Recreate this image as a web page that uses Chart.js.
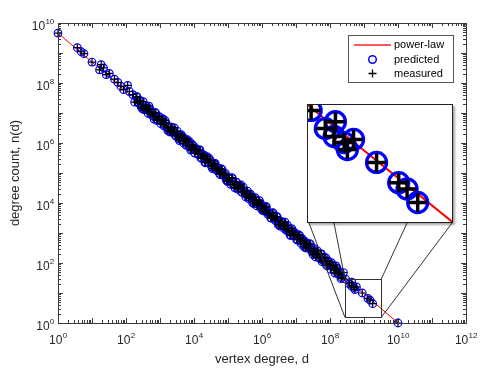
<!DOCTYPE html>
<html>
<head>
<meta charset="utf-8">
<script src="https://cdn.jsdelivr.net/npm/chart.js@4.4.1/dist/chart.umd.min.js"></script>
<style>
body { margin: 0; background: #fff; overflow: hidden; }
canvas { display: block; }
#wrap { position: relative; width: 485px; height: 374px; }
#inset { position: absolute; left: 307px; top: 104px; width: 144px; height: 117px;
         border: 1px solid #222; background: #fff; box-shadow: 2px 2px 2px rgba(0,0,0,0.35); }
</style>
</head>
<body>
<div id="wrap">
  <canvas id="myChart" width="485" height="374"></canvas>
  <div id="inset"><canvas id="zoomChart" width="144" height="117"></canvas></div>
</div>
<script>
// DATA ----------------------------------------
// vertex degree d (x)
const degree = [1, 3.7, 4.8, 5.8, 10, 16.6, 18.6, 21.9, 26.3, 32.4, 45.7, 57.5, 70.8, 85, 112, 126, 158,
  180, 200, 220, 250, 280, 320, 350, 400, 450, 500, 560, 630, 710, 800, 890,
  1000, 1100, 1300, 1400, 1600, 1800, 2000, 2200, 2500, 2800, 3200, 3500, 4000, 4500, 5000, 5600, 6300, 7100, 8000, 8900,
  1e4, 1.1e4, 1.3e4, 1.4e4, 1.6e4, 1.8e4, 2e4, 2.2e4, 2.5e4, 2.8e4, 3.2e4, 3.5e4, 4e4, 4.5e4, 5e4, 5.6e4, 6.3e4, 7.1e4, 8e4, 8.9e4,
  1e5, 1.1e5, 1.3e5, 1.4e5, 1.6e5, 1.8e5, 2e5, 2.2e5, 2.5e5, 2.8e5, 3.2e5, 3.5e5, 4e5, 4.5e5, 5e5, 5.6e5, 6.3e5, 7.1e5, 8e5, 8.9e5,
  1e6, 1.1e6, 1.3e6, 1.4e6, 1.6e6, 1.8e6, 2e6, 2.2e6, 2.5e6, 2.8e6, 3.2e6, 3.5e6, 4e6, 4.5e6, 5e6, 5.6e6, 6.3e6, 7.1e6, 8e6, 8.9e6,
  1e7, 1.1e7, 1.3e7, 1.4e7, 1.6e7, 1.8e7, 2e7, 2.2e7, 2.5e7, 2.8e7, 3.2e7, 3.5e7, 4e7, 4.5e7, 5e7, 5.6e7, 6.3e7, 7.1e7, 8e7, 8.9e7,
  1e8, 1.1e8, 1.3e8, 1.4e8, 1.6e8, 1.8e8, 2e8, 2.2e8, 2.5e8,
  2.9e8, 3.7e8, 4.4e8, 4.3e8, 5.1e8, 5.4e8, 6.0e8, 8.9e8, 1.3e9, 1.5e9, 1.8e9, 1e10,
  // in-between bins
  210, 240, 265, 300, 335, 375, 420, 475, 530, 590, 670, 750, 840, 950,
  1050, 1200, 1350, 1500, 1700, 1900, 2100, 2400, 2650, 3000, 3350, 3750, 4200, 4750, 5300, 5900, 6700, 7500, 8400, 9500,
  1.05e4, 1.2e4, 1.35e4, 1.5e4, 1.7e4, 1.9e4, 2.1e4, 2.4e4, 2.65e4, 3e4, 3.35e4, 3.75e4, 4.2e4, 4.75e4, 5.3e4, 5.9e4, 6.7e4, 7.5e4, 8.4e4, 9.5e4,
  1.05e5, 1.2e5, 1.35e5, 1.5e5, 1.7e5, 1.9e5, 2.1e5, 2.4e5, 2.65e5, 3e5, 3.35e5, 3.75e5, 4.2e5, 4.75e5, 5.3e5, 5.9e5, 6.7e5, 7.5e5, 8.4e5, 9.5e5,
  1.05e6, 1.2e6, 1.35e6, 1.5e6, 1.7e6, 1.9e6, 2.1e6, 2.4e6, 2.65e6, 3e6, 3.35e6, 3.75e6, 4.2e6, 4.75e6, 5.3e6, 5.9e6, 6.7e6, 7.5e6, 8.4e6, 9.5e6,
  1.05e7, 1.2e7, 1.35e7, 1.5e7, 1.7e7, 1.9e7, 2.1e7, 2.4e7, 2.65e7, 3e7, 3.35e7, 3.75e7, 4.2e7, 4.75e7, 5.3e7, 5.9e7, 6.7e7, 7.5e7, 8.4e7, 9.5e7,
  1.05e8, 1.2e8, 1.35e8, 1.5e8, 1.7e8, 1.9e8, 2.1e8];

// degree count n(d), measured
const measured = [4.6e9, 1.5e9, 1.1e9, 9.5e8, 5.0e8, 2.75e8, 4.1e8, 3.2e8, 1.9e8, 2.1e8, 1.35e8, 1.05e8, 7.8e7, 6.0e7, 8.3e7, 5.2e7, 4.1e7,
  2.3e7, 3.5e7, 2.4e7, 2.6e7, 1.6e7, 2.4e7, 1.5e7, 1.5e7, 9.7e6, 1.4e7, 1.1e7, 7.8e6, 1.05e7, 5.7e6, 7.4e6,
  5.6e6, 6.2e6, 3.7e6, 5.7e6, 3.4e6, 3.4e6, 2.3e6, 3.4e6, 2.7e6, 1.8e6, 2.5e6, 1.4e6, 1.7e6, 1.7e6, 9.8e5, 1.2e6, 1.3e6, 7.7e5, 5.8e5, 8.9e5,
  7.8e5, 6.3e5, 4.2e5, 5.9e5, 3.1e5, 4.0e5, 3.9e5, 2.3e5, 2.8e5, 3.1e5, 1.8e5, 1.4e5, 2.1e5, 1.4e5, 1.5e5, 9.7e4, 1.4e5, 8.7e4, 8.7e4, 5.8e4,
  5.4e4, 6.7e4, 7.0e4, 4.3e4, 3.2e4, 4.9e4, 3.3e4, 3.7e4, 2.3e4, 3.4e4, 2.0e4, 2.1e4, 1.4e4, 2.0e4, 1.6e4, 1.1e4, 1.5e4, 8.0e3, 1.0e4, 9.9e3,
  8.5e3, 5.5e3, 7.7e3, 4.9e3, 4.8e3, 3.2e3, 4.6e3, 3.8e3, 2.6e3, 3.5e3, 1.9e3, 2.5e3, 2.3e3, 1.4e3, 1.7e3, 1.8e3, 1.1e3, 820, 1.2e3, 850,
  870, 620, 800, 450, 570, 540, 320, 400, 430, 260, 190, 300, 200, 210, 140, 200, 120, 120, 81, 118,
  92, 103, 58, 46, 69, 46, 50, 33, 48,
  29, 20, 23, 17, 15, 13, 16, 10, 6.6, 5.8, 4.4, 1,
  // in-between bins
  3.5e7, 2.1e7, 2.6e7, 1.4e7, 1.3e7, 1.8e7, 1.3e7, 1.7e7, 9.0e6, 1.0e7, 6.3e6, 1.0e7, 6.2e6, 7.6e6,
  4.4e6, 6.5e6, 4.0e6, 4.8e6, 2.6e6, 2.4e6, 3.4e6, 2.4e6, 3.2e6, 1.7e6, 1.9e6, 1.2e6, 1.9e6, 1.2e6, 1.4e6, 8.4e5, 1.1e6, 1.1e6, 6.4e5, 6.7e5,
  4.6e5, 6.3e5, 4.4e5, 5.9e5, 3.2e5, 3.6e5, 2.2e5, 3.5e5, 2.2e5, 2.7e5, 1.6e5, 2.0e5, 2.1e5, 1.2e5, 1.3e5, 8.8e4, 1.3e5, 8.2e4, 9.7e4, 5.3e4,
  6.8e4, 4.2e4, 6.6e4, 4.1e4, 5.0e4, 2.9e4, 3.8e4, 4.0e4, 2.3e4, 2.4e4, 1.6e4, 2.5e4, 1.6e4, 1.8e4, 1.0e4, 9.3e3, 1.3e4, 9.1e3, 1.2e4, 6.4e3,
  5.6e3, 7.1e3, 7.4e3, 4.2e3, 4.4e3, 3.1e3, 4.8e3, 2.9e3, 3.5e3, 1.9e3, 1.7e3, 2.4e3, 1.7e3, 2.3e3, 1.2e3, 1.4e3, 850, 1.4e3, 840, 1.0e3,
  590, 880, 540, 650, 350, 320, 460, 320, 430, 230, 260, 160, 260, 160, 200, 110, 150, 150, 86, 90,
  62, 85, 60, 80, 43, 48, 30];

// predicted counts sit on the measured ones in the picture
const predicted = measured.slice();

// power-law fit line
const fitDegree = [1, 1e10];
const fitCount = [4.6e9, 1];

// tick label exponents (10^n)
const xTickExp = [0, 2, 4, 6, 8, 10, 12];
const yTickExp = [0, 2, 4, 6, 8, 10];

// zoom window drawn on main axes, and the inset's own limits
const zoomX = [2.75e8, 3.24e9];
const zoomY = [1.55, 29.5];
const insetX = [2.75e8, 3.24e9];
const insetY = [2.95, 32.4];

const legendLabels = ['power-law', 'predicted', 'measured'];

// LAYOUT ----------------------------------------
const FONT = '"Liberation Sans", Arial, Helvetica, sans-serif';
const insetBottom = 223;
const insetAnchors = [309, 334, 407, 452];

const pts = (xs, ys) => xs.map((x, i) => ({x: x, y: ys[i]}));

function drawPow(c, exp, x, y, align) {
  c.font = '12px ' + FONT;
  const wb = c.measureText('10').width;
  c.font = '8px ' + FONT;
  const we = c.measureText(String(exp)).width;
  const x0 = align === 'right' ? x - wb - we : x - (wb + we) / 2;
  c.textAlign = 'left';
  c.textBaseline = 'alphabetic';
  c.font = '12px ' + FONT;
  c.fillText('10', x0, y);
  c.font = '8px ' + FONT;
  c.fillText(String(exp), x0 + wb + 0.3, y - 6.5);
}

const frame = {
  id: 'frame',
  afterDatasetsDraw(chart) {
    const c = chart.ctx, a = chart.chartArea;
    const xs = chart.scales.x, ys = chart.scales.y;
    c.save();
    c.lineWidth = 1;

    // zoom rectangle + connectors
    const rx0 = xs.getPixelForValue(zoomX[0]), rx1 = xs.getPixelForValue(zoomX[1]);
    const ry0 = ys.getPixelForValue(zoomY[1]), ry1 = ys.getPixelForValue(zoomY[0]);
    c.strokeStyle = '#333';
    c.strokeRect(Math.round(rx0) + 0.5, Math.round(ry0) + 0.5, Math.round(rx1 - rx0), Math.round(ry1 - ry0));
    const ends = [[rx0, ry1], [rx0, ry0], [rx1, ry0], [rx1, ry1]];
    c.beginPath();
    ends.forEach((p, i) => { c.moveTo(insetAnchors[i], insetBottom); c.lineTo(p[0], p[1]); });
    c.stroke();

    // axes box
    c.strokeStyle = '#3a3a3a';
    c.strokeRect(Math.round(a.left) + 0.5, Math.round(a.top) + 0.5, Math.round(a.right - a.left), Math.round(a.bottom - a.top));

    // inward ticks on all four sides
    c.beginPath();
    for (let k = 0; k <= 12; k++) {
      for (let m = 1; m < 10; m++) {
        if (k === 12 && m > 1) break;
        const px = Math.round(xs.getPixelForValue(m * Math.pow(10, k))) + 0.5;
        const len = m === 1 ? 5 : 3;
        c.moveTo(px, a.bottom); c.lineTo(px, a.bottom - len);
        c.moveTo(px, a.top); c.lineTo(px, a.top + len);
      }
    }
    for (let k = 0; k <= 10; k++) {
      for (let m = 1; m < 10; m++) {
        if (k === 10 && m > 1) break;
        const py = Math.round(ys.getPixelForValue(m * Math.pow(10, k))) + 0.5;
        const len = m === 1 ? 5 : 3;
        c.moveTo(a.left, py); c.lineTo(a.left + len, py);
        c.moveTo(a.right, py); c.lineTo(a.right - len, py);
      }
    }
    c.stroke();

    // tick labels
    c.fillStyle = '#262626';
    xTickExp.forEach(e => drawPow(c, e, xs.getPixelForValue(Math.pow(10, e)), a.bottom + 21, 'center'));
    yTickExp.forEach(e => drawPow(c, e, a.left - 4, ys.getPixelForValue(Math.pow(10, e)) + 7, 'right'));

    // axis titles
    c.font = '13px ' + FONT;
    c.textAlign = 'center';
    c.textBaseline = 'alphabetic';
    c.fillText('vertex degree, d', (a.left + a.right) / 2, 363);
    c.save();
    c.translate(19, (a.top + a.bottom) / 2);
    c.rotate(-Math.PI / 2);
    c.fillText('degree count, n(d)', 0, 0);
    c.restore();

    // legend
    c.fillStyle = '#fff';
    c.fillRect(348, 35, 105, 47);
    c.strokeStyle = '#555';
    c.strokeRect(348.5, 35.5, 105, 47);
    const rows = [45, 59.5, 73.5];
    c.strokeStyle = '#ff2020';
    c.lineWidth = 1.4;
    c.beginPath(); c.moveTo(354, rows[0]); c.lineTo(391, rows[0]); c.stroke();
    c.strokeStyle = '#0000ff'; c.lineWidth = 1.5;
    c.beginPath(); c.arc(372.5, rows[1], 3.8, 0, Math.PI * 2); c.stroke();
    c.strokeStyle = '#000'; c.lineWidth = 1.3;
    c.beginPath();
    c.moveTo(368.5, rows[2]); c.lineTo(376.5, rows[2]);
    c.moveTo(372.5, rows[2] - 4); c.lineTo(372.5, rows[2] + 4);
    c.stroke();
    c.fillStyle = '#000';
    c.font = '11px ' + FONT;
    c.textAlign = 'left';
    c.textBaseline = 'middle';
    legendLabels.forEach((t, i) => c.fillText(t, 394, rows[i]));

    c.restore();
  }
};

function makeDatasets(big) {
  return [{
    label: 'measured',
    data: pts(degree, measured),
    pointStyle: 'cross',
    pointRadius: big ? 9.5 : 3.5,
    pointBorderColor: '#000',
    pointBorderWidth: big ? 3.5 : 1.2,
    pointBackgroundColor: 'rgba(0,0,0,0)',
    showLine: false,
    clip: big ? 0 : false,
    order: 1
  }, {
    label: 'predicted',
    data: pts(degree, predicted),
    pointStyle: 'circle',
    pointRadius: big ? 10 : 3.8,
    pointBorderColor: '#0000ff',
    pointBorderWidth: big ? 3.3 : 1.2,
    pointBackgroundColor: 'rgba(0,0,0,0)',
    showLine: false,
    clip: big ? 0 : false,
    order: 2
  }, {
    label: 'power-law',
    data: pts(fitDegree, fitCount),
    showLine: true,
    pointRadius: 0,
    borderColor: '#ff0000',
    borderWidth: big ? 2 : 1,
    order: 3
  }];
}

// main graph
const ctx = document.getElementById('myChart');
new Chart(ctx, {
  type: 'scatter',
  data: { datasets: makeDatasets(false) },
  options: {
    responsive: false,
    animation: false,
    events: [],
    layout: { autoPadding: false, padding: { left: 58, top: 23, right: 19, bottom: 51 } },
    plugins: { legend: { display: false }, tooltip: { enabled: false } },
    scales: {
      x: { type: 'logarithmic', min: 1, max: 1e12, display: false },
      y: { type: 'logarithmic', min: 1, max: 1e10, display: false }
    }
  },
  plugins: [frame]
});

// inset graph
new Chart(document.getElementById('zoomChart'), {
  type: 'scatter',
  data: { datasets: makeDatasets(true) },
  options: {
    responsive: false,
    animation: false,
    events: [],
    layout: { autoPadding: false, padding: 0 },
    plugins: { legend: { display: false }, tooltip: { enabled: false } },
    scales: {
      x: { type: 'logarithmic', min: insetX[0], max: insetX[1], display: false },
      y: { type: 'logarithmic', min: insetY[0], max: insetY[1], display: false }
    }
  }
});
</script>
</body>
</html>
